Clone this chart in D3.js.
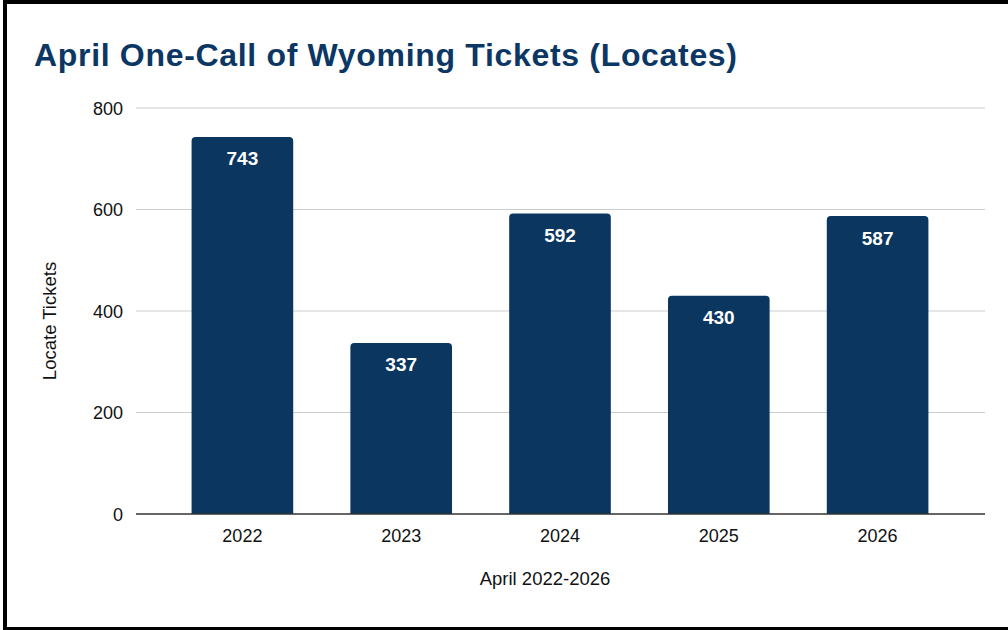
<!DOCTYPE html>
<html><head><meta charset="utf-8">
<script src="https://cdn.jsdelivr.net/npm/d3@7"></script>
<style>html,body{margin:0;padding:0;background:#fff;}svg{display:block;}</style>
</head><body>
<script>
const titleText = "April One-Call of Wyoming Tickets (Locates)";
const categories = ["2022", "2023", "2024", "2025", "2026"];
const values = [743, 337, 592, 430, 587];
const yTicks = [0, 200, 400, 600, 800];
const xAxisTitle = "April 2022-2026";
const yAxisTitle = "Locate Tickets";

const W = 1008, H = 630;
const font = "'Liberation Sans', Arial, sans-serif";
const barColor = "#0b3660";
const svg = d3.select("body").append("svg").attr("width", W).attr("height", H);
svg.append("rect").attr("width", W).attr("height", H).attr("fill", "#fff");

// border
svg.append("rect").attr("x", 3).attr("y", 0).attr("width", 4).attr("height", H).attr("fill", "#000");
svg.append("rect").attr("x", 3).attr("y", 0).attr("width", W - 3).attr("height", 4).attr("fill", "#000");
svg.append("rect").attr("x", 3).attr("y", 627).attr("width", W - 3).attr("height", 3).attr("fill", "#000");

// title
svg.append("text").attr("x", 34).attr("y", 66)
  .attr("font-family", font).attr("font-weight", "bold").attr("font-size", 32)
  .attr("fill", "#0c3764").attr("textLength", 703).attr("lengthAdjust", "spacing")
  .text(titleText);

const x = d3.scaleBand().domain(categories).range([136, 984]).paddingInner(0.36).paddingOuter(0.35);
const y = d3.scaleLinear().domain([0, 800]).range([514, 108]);

// gridlines
svg.append("g").selectAll("line").data(yTicks.filter(d => d !== 0)).join("line")
  .attr("x1", 136).attr("x2", 985).attr("y1", d => y(d)).attr("y2", d => y(d))
  .attr("stroke", "#cccccc").attr("stroke-width", 1);

// y tick labels
svg.append("g").selectAll("text").data(yTicks).join("text")
  .attr("x", 123).attr("y", d => y(d) + 6.5).attr("text-anchor", "end")
  .attr("font-family", font).attr("font-size", 18).attr("fill", "#111")
  .text(d => d);

// bars with rounded top corners
const r = 4;
svg.append("g").selectAll("path").data(values).join("path")
  .attr("fill", barColor)
  .attr("d", (d, i) => {
    const x0 = x(categories[i]), w = x.bandwidth(), y0 = y(d), yb = y(0);
    return `M${x0},${yb}V${y0 + r}Q${x0},${y0} ${x0 + r},${y0}H${x0 + w - r}Q${x0 + w},${y0} ${x0 + w},${y0 + r}V${yb}Z`;
  });

// value labels
svg.append("g").selectAll("text").data(values).join("text")
  .attr("x", (d, i) => x(categories[i]) + x.bandwidth() / 2)
  .attr("y", d => y(d) + 28.5)
  .attr("text-anchor", "middle").attr("font-family", font).attr("font-weight", "bold")
  .attr("font-size", 19).attr("fill", "#fff")
  .text(d => d);

// baseline
svg.append("line").attr("x1", 136).attr("x2", 985).attr("y1", y(0)).attr("y2", y(0))
  .attr("stroke", "#333").attr("stroke-width", 1.5);

// x tick labels
svg.append("g").selectAll("text").data(categories).join("text")
  .attr("x", d => x(d) + x.bandwidth() / 2).attr("y", 542)
  .attr("text-anchor", "middle").attr("font-family", font).attr("font-size", 18).attr("fill", "#111")
  .text(d => d);

// axis titles
svg.append("text").attr("x", 545).attr("y", 585).attr("text-anchor", "middle")
  .attr("font-family", font).attr("font-size", 18.5).attr("fill", "#111").text(xAxisTitle);
svg.append("text").attr("transform", "translate(56,321) rotate(-90)").attr("text-anchor", "middle")
  .attr("font-family", font).attr("font-size", 18.5).attr("fill", "#111").text(yAxisTitle);
</script>
</body></html>
